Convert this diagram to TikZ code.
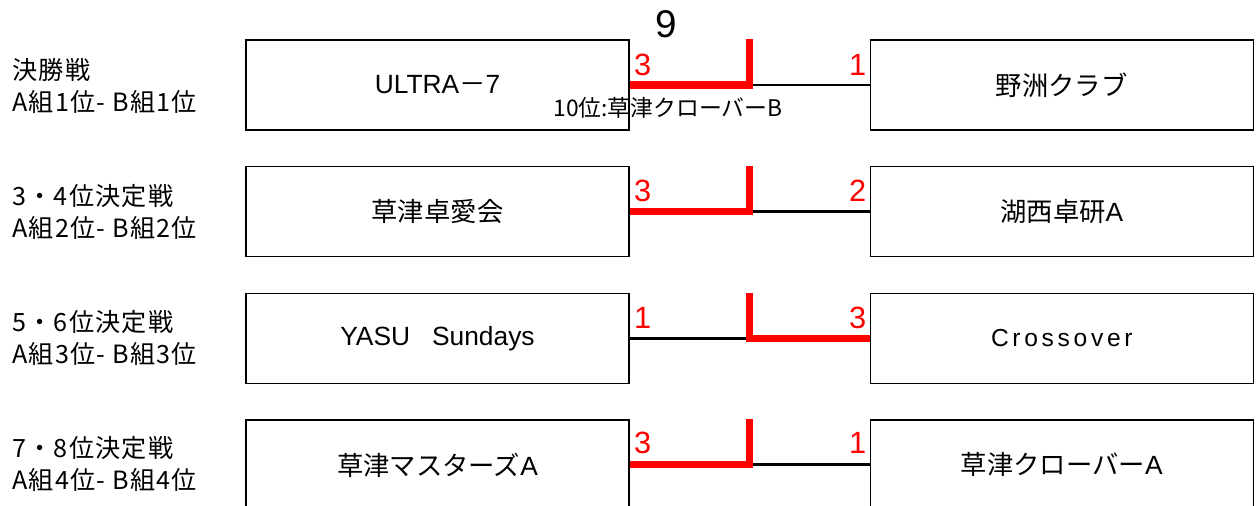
\documentclass[tikz,border=0pt]{standalone}
\usepackage{fontspec}
\setmainfont{Liberation Sans}
\newfontfamily\jp{Noto Sans CJK JP}
\newfontfamily\jpwide[LetterSpace=5]{Noto Sans CJK JP}
\newfontfamily\spaced[LetterSpace=15]{Liberation Sans}
\usetikzlibrary{positioning}

\begin{document}
\begin{tikzpicture}[x=0.02cm,y=-0.02cm,
  team/.style={draw,line width=0.8pt,minimum width=7.66cm,minimum height=1.8cm,inner sep=0pt,font=\fontsize{15}{18}\selectfont},
  match/.style={anchor=west,align=left,inner sep=0pt,font=\jpwide\fontsize{14.3}{18}\selectfont},
  score/.style={text=red,inner sep=0pt,font=\fontsize{17.5}{20}\selectfont},
  win/.style={draw=red,line width=4pt},
  lose/.style={draw,line width=1.7pt}]
\useasboundingbox (0,0) rectangle (1256,506);
\begin{scope}
\node[team] (l1) at (437.5,85) {ULTRA{\jp －}7};
\node[team,right=4.8cm of l1] (r1) {\jp 野洲クラブ};
\node[match] (g1) at (12,86) {決勝戦\\A組1位- B組1位};
\coordinate[right=2.39cm of l1.east] (m1);
\draw[lose] (m1) -- (r1.west);
\draw[win] (l1.east) -- (m1) -- (m1 |- l1.north);
\node[score,anchor=base west] (a1) at ([shift={(4,-9)}]l1.east) {3};
\node[score,anchor=base east] (b1) at ([shift={(-3,-9)}]r1.west) {1};
\node[inner sep=0pt,font=\fontsize{22}{26}\selectfont] (no) at (666,24) {9};
\node[inner sep=0pt,font=\jp\fontsize{13}{15}\selectfont] (tenth) at (668,108) {10位:草津クローバーB};
\end{scope}
\begin{scope}
\node[team,below=0.705cm of l1] (l2) {\jp 草津卓愛会};
\node[team,right=4.8cm of l2] (r2) {{\jp 湖西卓研}A};
\node[match] (g2) at (12,212) {3・4位決定戦\\A組2位- B組2位};
\coordinate[right=2.39cm of l2.east] (m2);
\draw[lose] (m2) -- (r2.west);
\draw[win] (l2.east) -- (m2) -- (m2 |- l2.north);
\node[score,anchor=base west] (a2) at ([shift={(4,-10)}]l2.east) {3};
\node[score,anchor=base east] (b2) at ([shift={(-3,-10)}]r2.west) {2};
\end{scope}
\begin{scope}
\node[team,below=0.705cm of l2] (l3) {YASU~~~Sundays};
\node[team,right=4.8cm of l3,font=\spaced\fontsize{14}{18}\selectfont] (r3) {Crossover};
\node[match] (g3) at (12,338) {5・6位決定戦\\A組3位- B組3位};
\coordinate[right=2.39cm of l3.east] (m3);
\draw[lose] (l3.east) -- (m3);
\draw[win] (r3.west) -- (m3) -- (m3 |- r3.north);
\node[score,anchor=base west] (a3) at ([shift={(4,-10)}]l3.east) {1};
\node[score,anchor=base east] (b3) at ([shift={(-3,-10)}]r3.west) {3};
\end{scope}
\begin{scope}
\node[team,below=0.705cm of l3] (l4) {{\jp 草津マスターズ}A};
\node[team,right=4.8cm of l4] (r4) {{\jp 草津クローバー}A};
\node[match] (g4) at (12,464) {7・8位決定戦\\A組4位- B組4位};
\coordinate[right=2.39cm of l4.east] (m4);
\draw[lose] (m4) -- (r4.west);
\draw[win] (l4.east) -- (m4) -- (m4 |- l4.north);
\node[score,anchor=base west] (a4) at ([shift={(4,-11)}]l4.east) {3};
\node[score,anchor=base east] (b4) at ([shift={(-3,-11)}]r4.west) {1};
\end{scope}
\end{tikzpicture}
\end{document}
